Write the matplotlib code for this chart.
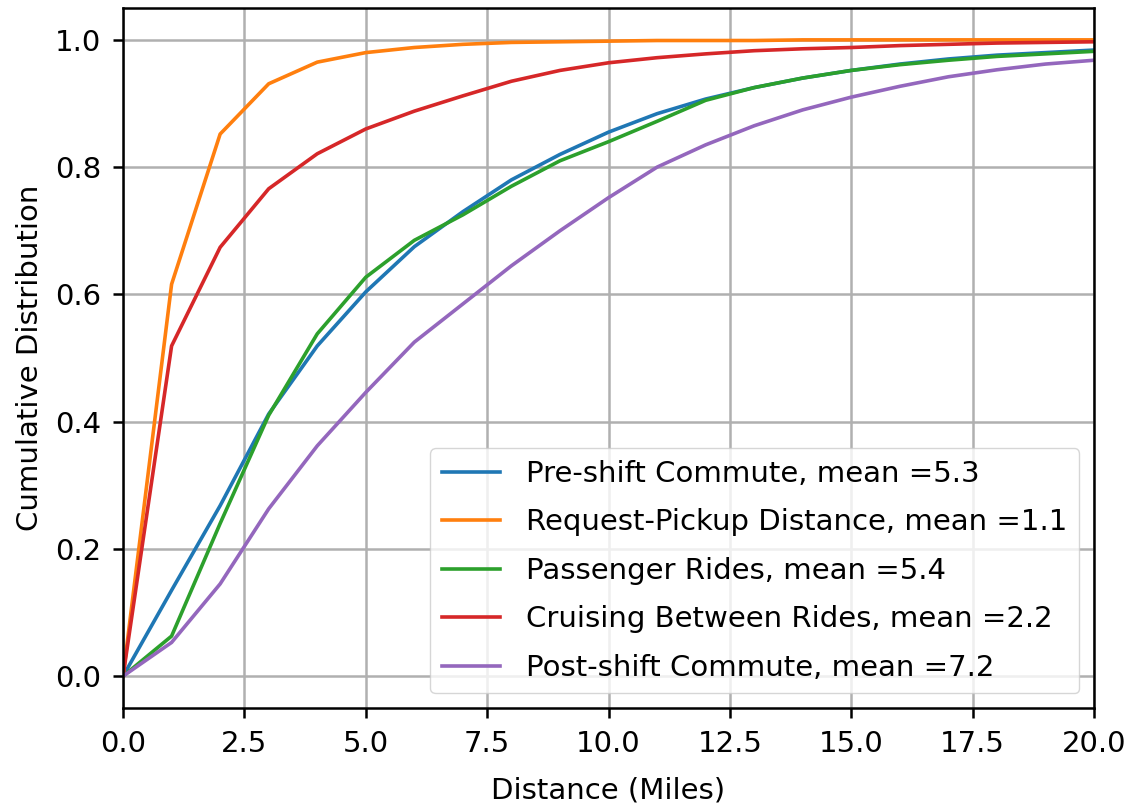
import matplotlib
matplotlib.use("Agg")
import matplotlib.pyplot as plt

distance = list(range(0, 21))

pre_shift = [0.0, 0.135, 0.268, 0.412, 0.519, 0.604, 0.675, 0.73, 0.78, 0.82, 0.855,
             0.884, 0.907, 0.925, 0.94, 0.952, 0.962, 0.97, 0.976, 0.98, 0.984]
request_pickup = [0.0, 0.616, 0.852, 0.931, 0.965, 0.980, 0.988, 0.993, 0.996, 0.997, 0.998,
                  0.999, 0.999, 0.999, 1.0, 1.0, 1.0, 1.0, 1.0, 1.0, 1.0]
passenger = [0.0, 0.063, 0.24, 0.41, 0.538, 0.627, 0.685, 0.725, 0.77, 0.81, 0.84,
             0.872, 0.905, 0.925, 0.94, 0.952, 0.961, 0.968, 0.974, 0.978, 0.982]
cruising = [0.0, 0.519, 0.674, 0.766, 0.821, 0.860, 0.888, 0.912, 0.935, 0.952, 0.964,
            0.972, 0.978, 0.983, 0.986, 0.988, 0.991, 0.993, 0.995, 0.996, 0.997]
post_shift = [0.0, 0.053, 0.145, 0.263, 0.362, 0.446, 0.525, 0.585, 0.645, 0.70, 0.752,
              0.80, 0.835, 0.865, 0.89, 0.91, 0.927, 0.942, 0.953, 0.962, 0.968]

series_labels = ["Pre-shift Commute, mean =5.3",
                 "Request-Pickup Distance, mean =1.1",
                 "Passenger Rides, mean =5.4",
                 "Cruising Between Rides, mean =2.2",
                 "Post-shift Commute, mean =7.2"]
series_values = [pre_shift, request_pickup, passenger, cruising, post_shift]
colors = ["#1f77b4", "#ff7f0e", "#2ca02c", "#d62728", "#9467bd"]

plt.rcParams["font.family"] = ["DejaVu Sans"]
fs = 21

fig = plt.figure(figsize=(11.33, 8.06), dpi=100)
ax = fig.add_axes([0.1086, 0.1216, 0.857, 0.8684])

for vals, lab, c in zip(series_values, series_labels, colors):
    ax.plot(distance, vals, color=c, lw=2.6, label=lab)

ax.set_xlim(0, 20)
ax.set_ylim(-0.05, 1.05)
ax.set_xticks([0, 2.5, 5, 7.5, 10, 12.5, 15, 17.5, 20])
ax.set_yticks([0.0, 0.2, 0.4, 0.6, 0.8, 1.0])
ax.grid(True, color="#b0b0b0", lw=1.8)
ax.tick_params(labelsize=fs, width=1.8, length=7, pad=8.5, colors="black")
for s in ax.spines.values():
    s.set_linewidth(1.8)
ax.set_xlabel("Distance (Miles)", fontsize=fs, labelpad=13.5)
ax.set_ylabel("Cumulative Distribution", fontsize=fs, labelpad=8)
ax.legend(loc="lower right", fontsize=fs, framealpha=0.8, handlelength=2.0,
          borderpad=0.4, labelspacing=0.7, handletextpad=0.9,
          borderaxespad=0.5)

fig.savefig("out.png", dpi=100)
